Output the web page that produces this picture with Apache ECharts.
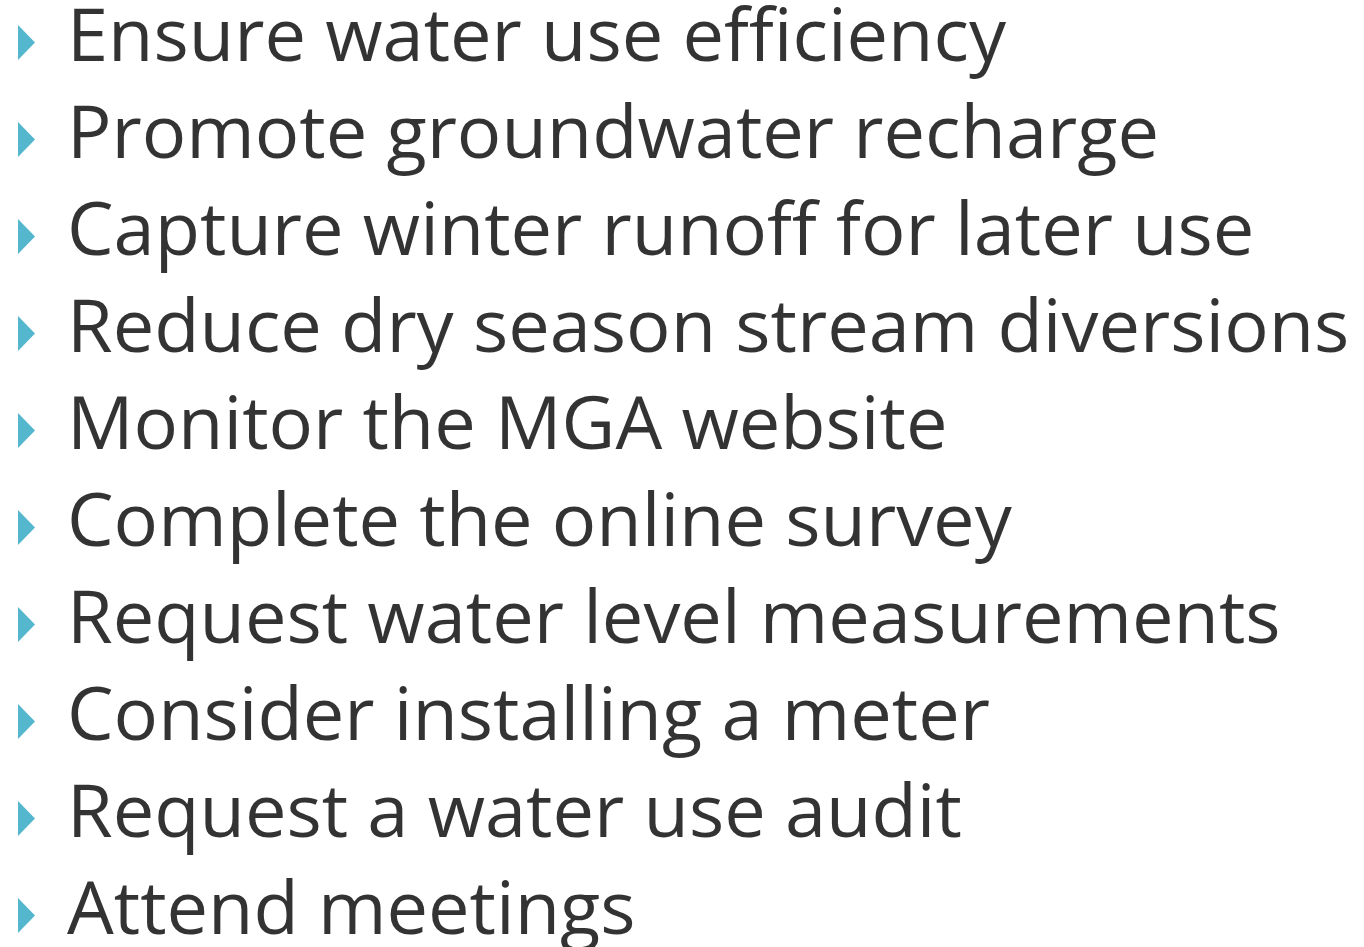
<!DOCTYPE html>
<html>
<head>
<meta charset="utf-8">
<script src="https://cdn.jsdelivr.net/npm/echarts@6/dist/echarts.min.js"></script>
<style>
  html, body { margin: 0; padding: 0; background: #fff; }
  #main { width: 1364px; height: 947px; }
</style>
</head>
<body>
<div id="main"></div>
<script>
// list items, top to bottom
var items = [
  'Ensure water use efficiency',
  'Promote groundwater recharge',
  'Capture winter runoff for later use',
  'Reduce dry season stream diversions',
  'Monitor the MGA website',
  'Complete the online survey',
  'Request water level measurements',
  'Consider installing a meter',
  'Request a water use audit',
  'Attend meetings'
];
var bulletColor = '#2aa5c0';

var chart = echarts.init(document.getElementById('main'));
chart.setOption({
  animation: false,
  grid: {
    left: 26.5,
    right: 10,
    top: 42.5,
    bottom: 31.5
  },
  xAxis: {
    type: 'value',
    min: 0,
    max: 1,
    show: false
  },
  yAxis: {
    type: 'category',
    data: items,
    inverse: true,
    boundaryGap: false,
    show: false
  },
  series: [{
    type: 'scatter',
    symbol: 'triangle',
    symbolSize: [35, 17],
    symbolRotate: -90,
    itemStyle: { color: bulletColor },
    data: items.map(function (name) { return [0, name]; }),
    label: {
      show: true,
      position: 'right',
      distance: 32,
      offset: [0, -3],
      color: '#000',
      fontFamily: 'Open Sans',
      fontWeight: 500,
      fontSize: 74,
      formatter: function (p) { return p.value[1]; }
    }
  }]
});
</script>
</body>
</html>
